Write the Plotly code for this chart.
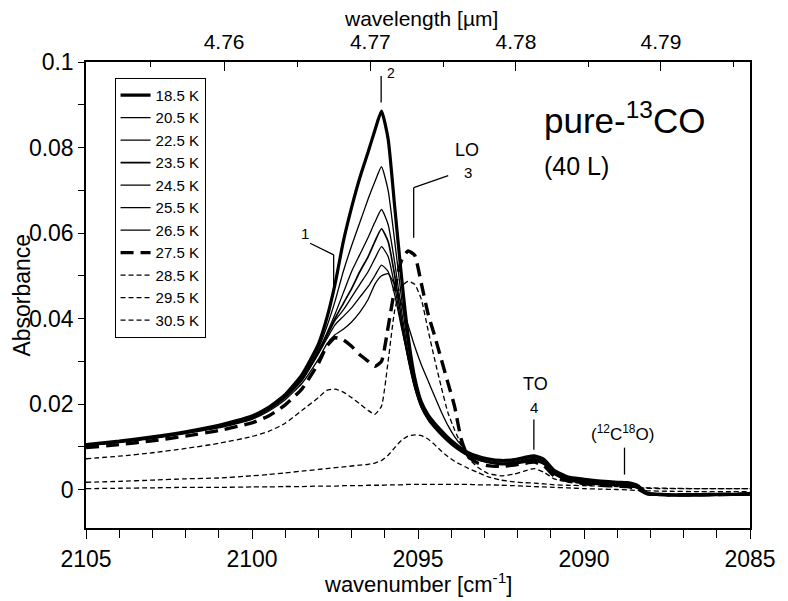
import plotly.graph_objects as go

# ---------------- data ----------------
wavenumber = [2105, 2104, 2103, 2102, 2101, 2100, 2099.5, 2099, 2098.5, 2098,
              2097.75, 2097.5, 2097.25, 2097, 2096.75, 2096.5, 2096.3, 2096.1, 2095.9, 2095.7,
              2095.5, 2095.3, 2095.1, 2094.9, 2094.7, 2094.5, 2094.3, 2094.1, 2093.9, 2093.7,
              2093.5, 2093.2, 2092.9, 2092.5, 2092.1, 2091.8, 2091.5, 2091.2, 2090.9, 2090.5,
              2090, 2089.5, 2089, 2088.7, 2088.4, 2088.1, 2087.5, 2086.5, 2085.5, 2085]

a_185 = [0.0105, 0.0113, 0.0123, 0.0135, 0.0150, 0.0172, 0.0192, 0.0222, 0.0268, 0.0340,
         0.0400, 0.0480, 0.0580, 0.0660, 0.0730, 0.0790, 0.0840, 0.0885, 0.0820, 0.0660,
         0.0500, 0.0360, 0.0262, 0.0205, 0.0175, 0.0155, 0.0138, 0.0122, 0.0108, 0.0096,
         0.0087, 0.0078, 0.0072, 0.0068, 0.0070, 0.0075, 0.0079, 0.0070, 0.0045, 0.0030,
         0.0024, 0.0020, 0.0017, 0.0016, 0.0010, -0.0008, -0.0012, -0.0012, -0.0011, -0.0010]
a_205 = [0.0104, 0.0112, 0.0122, 0.0134, 0.0148, 0.0170, 0.0190, 0.0220, 0.0262, 0.0330,
         0.0380, 0.0440, 0.0510, 0.0570, 0.0625, 0.0680, 0.0720, 0.0755, 0.0700, 0.0580,
         0.0450, 0.0335, 0.0250, 0.0198, 0.0168, 0.0148, 0.0131, 0.0116, 0.0103, 0.0092,
         0.0083, 0.0074, 0.0068, 0.0064, 0.0066, 0.0071, 0.0075, 0.0066, 0.0041, 0.0027,
         0.0021, 0.0017, 0.0014, 0.0013, 0.0007, -0.0009, -0.0013, -0.0013, -0.0012, -0.0011]
a_225 = [0.0104, 0.0112, 0.0122, 0.0134, 0.0148, 0.0169, 0.0189, 0.0218, 0.0260, 0.0325,
         0.0365, 0.0410, 0.0460, 0.0510, 0.0550, 0.0590, 0.0625, 0.0655, 0.0620, 0.0530,
         0.0420, 0.0320, 0.0245, 0.0195, 0.0166, 0.0146, 0.0129, 0.0114, 0.0101, 0.0090,
         0.0081, 0.0072, 0.0066, 0.0062, 0.0064, 0.0069, 0.0073, 0.0064, 0.0039, 0.0025,
         0.0019, 0.0015, 0.0013, 0.0012, 0.0006, -0.0010, -0.0013, -0.0013, -0.0012, -0.0011]
a_235 = [0.0104, 0.0112, 0.0121, 0.0133, 0.0147, 0.0168, 0.0188, 0.0217, 0.0258, 0.0322,
         0.0360, 0.0400, 0.0435, 0.0470, 0.0510, 0.0545, 0.0580, 0.0610, 0.0580, 0.0500,
         0.0400, 0.0310, 0.0240, 0.0192, 0.0164, 0.0144, 0.0127, 0.0112, 0.0099, 0.0088,
         0.0079, 0.0070, 0.0064, 0.0060, 0.0062, 0.0067, 0.0071, 0.0062, 0.0038, 0.0024,
         0.0018, 0.0014, 0.0012, 0.0011, 0.0005, -0.0011, -0.0014, -0.0014, -0.0013, -0.0012]
a_245 = [0.0103, 0.0111, 0.0121, 0.0133, 0.0146, 0.0167, 0.0187, 0.0216, 0.0256, 0.0320,
         0.0357, 0.0395, 0.0420, 0.0450, 0.0480, 0.0510, 0.0540, 0.0568, 0.0545, 0.0475,
         0.0385, 0.0305, 0.0238, 0.0192, 0.0165, 0.0145, 0.0128, 0.0113, 0.0100, 0.0089,
         0.0080, 0.0070, 0.0064, 0.0060, 0.0062, 0.0066, 0.0070, 0.0061, 0.0037, 0.0023,
         0.0017, 0.0013, 0.0011, 0.0010, 0.0004, -0.0011, -0.0014, -0.0014, -0.0013, -0.0012]
a_255 = [0.0103, 0.0111, 0.0120, 0.0132, 0.0146, 0.0166, 0.0186, 0.0214, 0.0254, 0.0317,
         0.0352, 0.0385, 0.0405, 0.0425, 0.0450, 0.0475, 0.0500, 0.0525, 0.0510, 0.0455,
         0.0380, 0.0310, 0.0245, 0.0198, 0.0170, 0.0150, 0.0132, 0.0116, 0.0102, 0.0090,
         0.0080, 0.0070, 0.0063, 0.0059, 0.0061, 0.0065, 0.0069, 0.0060, 0.0036, 0.0022,
         0.0016, 0.0012, 0.0010, 0.0009, 0.0004, -0.0011, -0.0014, -0.0014, -0.0013, -0.0012]
a_265 = [0.0102, 0.0110, 0.0119, 0.0131, 0.0144, 0.0164, 0.0183, 0.0210, 0.0248, 0.0305,
         0.0340, 0.0362, 0.0375, 0.0392, 0.0415, 0.0445, 0.0480, 0.0500, 0.0505, 0.0478,
         0.0435, 0.0385, 0.0335, 0.0292, 0.0255, 0.0218, 0.0182, 0.0150, 0.0124, 0.0104,
         0.0088, 0.0074, 0.0065, 0.0058, 0.0059, 0.0063, 0.0067, 0.0058, 0.0035, 0.0021,
         0.0015, 0.0011, 0.0009, 0.0008, 0.0003, -0.0011, -0.0014, -0.0014, -0.0013, -0.0012]
a_275 = [0.0098, 0.0105, 0.0114, 0.0125, 0.0138, 0.0156, 0.0172, 0.0198, 0.0235, 0.0295,
         0.0335, 0.0355, 0.0350, 0.0335, 0.0315, 0.0300, 0.0288, 0.0300, 0.0380, 0.0470,
         0.0535, 0.0558, 0.0548, 0.0482, 0.0412, 0.0360, 0.0305, 0.0250, 0.0195, 0.0118,
         0.0078, 0.0062, 0.0056, 0.0054, 0.0057, 0.0061, 0.0064, 0.0055, 0.0032, 0.0020,
         0.0014, 0.0010, 0.0008, 0.0007, 0.0002, -0.0010, -0.0012, -0.0012, -0.0011, -0.0010]
a_285 = [0.0072, 0.0078, 0.0086, 0.0096, 0.0108, 0.0124, 0.0136, 0.0155, 0.0185, 0.0215,
         0.0232, 0.0235, 0.0228, 0.0215, 0.0200, 0.0185, 0.0176, 0.0195, 0.0300, 0.0420,
         0.0475, 0.0487, 0.0480, 0.0445, 0.0374, 0.0305, 0.0240, 0.0180, 0.0140, 0.0105,
         0.0075, 0.0052, 0.0038, 0.0032, 0.0036, 0.0043, 0.0049, 0.0040, 0.0025, 0.0018,
         0.0014, 0.0011, 0.0009, 0.0008, 0.0005, 0.0003, 0.0002, 0.0002, 0.0002, 0.0002]
a_295 = [0.0017, 0.0019, 0.0022, 0.0025, 0.0027, 0.0032, 0.0035, 0.0039, 0.0043, 0.0047,
         0.0049, 0.0051, 0.0053, 0.0055, 0.0057, 0.0059, 0.0062, 0.0068, 0.0080, 0.0098,
         0.0115, 0.0125, 0.0128, 0.0126, 0.0118, 0.0105, 0.0090, 0.0077, 0.0066, 0.0058,
         0.0050, 0.0040, 0.0030, 0.0022, 0.0018, 0.0016, 0.0015, 0.0013, 0.0011, 0.0010,
         0.0009, 0.0008, 0.0007, 0.0006, 0.0005, 0.0004, 0.0003, 0.0002, 0.0002, 0.0002]
a_305 = [0.0002, 0.0003, 0.0004, 0.0005, 0.0005, 0.0006, 0.0006, 0.0007, 0.0007, 0.0008,
         0.0008, 0.0008, 0.0009, 0.0009, 0.0009, 0.0010, 0.0010, 0.0010, 0.0011, 0.0011,
         0.0011, 0.0012, 0.0012, 0.0012, 0.0012, 0.0012, 0.0012, 0.0012, 0.0012, 0.0012,
         0.0012, 0.0011, 0.0011, 0.0010, 0.0009, 0.0008, 0.0007, 0.0006, 0.0005, 0.0004,
         0.0002, 0.0001, 0.0000, -0.0001, -0.0002, -0.0003, -0.0004, -0.0005, -0.0005, -0.0005]

series_names = ["18.5 K", "20.5 K", "22.5 K", "23.5 K", "24.5 K", "25.5 K",
                "26.5 K", "27.5 K", "28.5 K", "29.5 K", "30.5 K"]
series_values = [a_185, a_205, a_225, a_235, a_245, a_255, a_265, a_275, a_285, a_295, a_305]

wn_ticks = [2105, 2100, 2095, 2090, 2085]
wl_major = [4.76, 4.77, 4.78, 4.79]
wl_minor = [4.755, 4.765, 4.775, 4.785, 4.795]

# ---------------- styles ----------------
styles = [
    dict(width=3.2, dash="solid"),
    dict(width=1.3, dash="solid"),
    dict(width=1.3, dash="solid"),
    dict(width=1.7, dash="solid"),
    dict(width=1.3, dash="solid"),
    dict(width=1.3, dash="solid"),
    dict(width=1.3, dash="solid"),
    dict(width=3.4, dash="13px,7px"),
    dict(width=1.3, dash="5px,3px"),
    dict(width=1.3, dash="5px,3px"),
    dict(width=1.3, dash="5px,3px"),
]

FONT = "Arial, 'Liberation Sans', Helvetica, sans-serif"

fig = go.Figure()
for name, vals, st in zip(series_names, series_values, styles):
    fig.add_trace(go.Scatter(
        x=wavenumber, y=vals, name=name, mode="lines",
        line=dict(color="black", width=st["width"], dash=st["dash"],
                  shape="spline", smoothing=0.5),
    ))

# dummy trace to activate top axis
fig.add_trace(go.Scatter(x=[wn_ticks[0], wn_ticks[-1]], y=[None, None], xaxis="x2",
                         showlegend=False, hoverinfo="skip", mode="lines"))

axis_common = dict(showline=True, linecolor="black", linewidth=1.5, showgrid=False,
                   zeroline=False, tickcolor="black", tickwidth=1.3)

fig.update_layout(
    width=788, height=601,
    margin=dict(l=86, r=29, t=62, b=73),
    paper_bgcolor="white", plot_bgcolor="white",
    font=dict(family=FONT, color="black"),
    xaxis=dict(range=[wn_ticks[0], wn_ticks[-1]], tickvals=wn_ticks, ticks="outside",
               ticklen=9, ticklabelstandoff=1,
               tickfont=dict(family=FONT, size=23, color="black"),
               minor=dict(dtick=1, ticks="outside", ticklen=8, tickcolor="black", tickwidth=1.2),
               **axis_common),
    xaxis2=dict(range=[wn_ticks[0], wn_ticks[-1]], overlaying="x", side="top", anchor="y",
                tickvals=[1e4 / w for w in wl_major], ticktext=[f"{w:.2f}" for w in wl_major],
                ticks="inside", ticklen=9, ticklabelstandoff=3,
                tickfont=dict(family=FONT, size=21, color="black"),
                minor=dict(tickvals=[1e4 / w for w in wl_minor], ticks="inside", ticklen=5,
                           tickcolor="black", tickwidth=1.2),
                **axis_common),
    yaxis=dict(range=[-0.009, 0.1], dtick=0.02, tick0=0, ticks="outside", ticklen=6,
               mirror=True, ticklabelstandoff=0,
               tickfont=dict(family=FONT, size=23, color="black"),
               minor=dict(dtick=0.01, ticks="outside", ticklen=6, tickcolor="black", tickwidth=1.2),
               **axis_common),
    legend=dict(x=0.043, y=0.966, xanchor="left", yanchor="top",
                bgcolor="white", bordercolor="black", borderwidth=1,
                font=dict(family=FONT, size=15, color="black"),
                itemwidth=30, tracegroupgap=0),
    showlegend=True,
)

ann = []
def text(x, y, s, size=16, xref="x", yref="y", xanchor="center", yanchor="middle", angle=0):
    ann.append(dict(x=x, y=y, xref=xref, yref=yref, text=s, showarrow=False,
                    xanchor=xanchor, yanchor=yanchor, textangle=angle,
                    font=dict(family=FONT, size=size, color="black")))

text(0.5, -0.117, "wavenumber [cm<sup>-1</sup>]", 22, "paper", "paper")
text(0.505, 1.094, "wavelength [µm]", 21, "paper", "paper")
text(-0.097, 0.5, "Absorbance", 23, "paper", "paper", angle=-90)
text(2091.27, 0.0868, "pure-<sup>13</sup>CO", 35, xanchor="left")
text(2091.27, 0.0757, "(40 L)", 25, xanchor="left")
text(2095.82, 0.0975, "2", 14)
text(2098.40, 0.0598, "1", 15)
text(2093.52, 0.0795, "LO", 18)
text(2093.50, 0.0742, "3", 15)
text(2091.45, 0.0247, "TO", 18)
text(2091.51, 0.0193, "4", 15)
text(2088.83, 0.0133, "(<sup>12</sup>C<sup>18</sup>O)", 17)

lines = [
    [(2096.11, 0.0967), (2096.11, 0.0905)],
    [(2098.25, 0.0576), (2097.54, 0.0549), (2097.54, 0.0474)],
    [(2094.09, 0.0734), (2095.13, 0.0706), (2095.13, 0.0589)],
    [(2091.51, 0.0164), (2091.51, 0.0093)],
    [(2088.78, 0.0098), (2088.78, 0.0035)],
]
shapes = []
for pts in lines:
    for (x0, y0), (x1, y1) in zip(pts[:-1], pts[1:]):
        shapes.append(dict(type="line", xref="x", yref="y", x0=x0, y0=y0, x1=x1, y1=y1,
                           line=dict(color="black", width=1.3)))

fig.update_layout(annotations=ann, shapes=shapes)
fig.write_html("out.html")
